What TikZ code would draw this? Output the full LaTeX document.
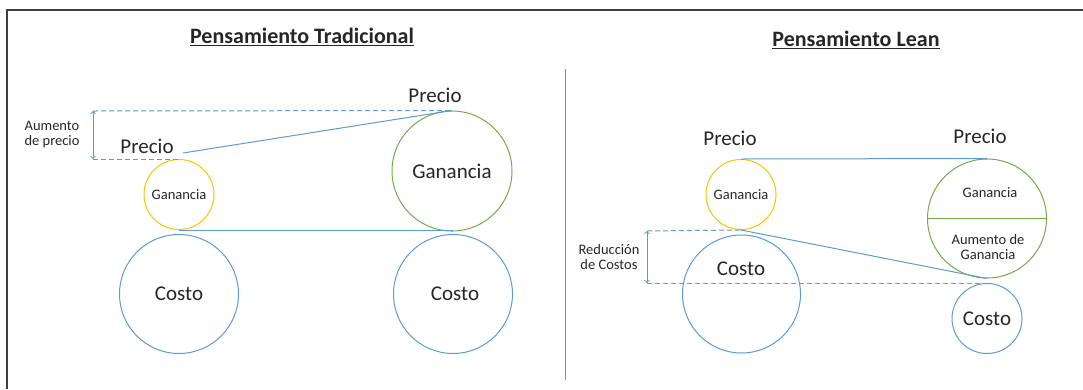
\documentclass[tikz,border=0pt]{standalone}
\usepackage{fontspec}
\setmainfont{Carlito}
\usepackage{xcolor}
\usetikzlibrary{positioning,arrows}
\definecolor{azul}{HTML}{5B9BD5}
\definecolor{amar}{HTML}{FFC000}
\definecolor{verde}{HTML}{70AD47}
\definecolor{texto}{HTML}{262626}
\definecolor{marco}{HTML}{404040}

\begin{document}
\begin{tikzpicture}[x=1pt,y=-1pt,>=to,font=\fontsize{21}{24}\selectfont,text=texto,
		circ/.style={circle,inner sep=0pt,line width=1pt},
		small/.style={font=\fontsize{14.5}{16}\selectfont},
		titulo/.style={font=\fontsize{22}{24}\selectfont\bfseries},
		linea/.style={draw=azul,line width=1pt},
		guia/.style={draw=azul,line width=1pt,dashed,dash pattern=on 5pt off 3pt}]
			\useasboundingbox (0,0) rectangle (1083,389);
			\draw[marco,line width=1.4pt] (7,389) -- (7,10) -- (1083,10);
	
			% Pensamiento Tradicional
			\node[titulo] (t1) at (302,37) {\underline{Pensamiento Tradicional}};
			\node[circ,draw=amar,minimum size=70pt,small] (g1) at (179,194.5) {Ganancia};
			\node[circ,draw=azul,minimum size=119pt] (c1) at (179,294) {Costo};
			\node[circ,draw=verde,minimum size=120pt] (g2) at (452,171) {Ganancia};
			\node[circ,draw=azul,minimum size=119pt] (c2) at (453,294) {\hspace*{4pt}Costo};
			\node (p1) at (147,146) {Precio};
			\node (p2) at (435,95) {Precio};
			\node[small,align=center,inner sep=0pt] (a0) at (52,135) {Aumento\\[-1pt]de precio};
			\coordinate (a1) at (93,111);
			\coordinate (a2) at (93,159);
			\coordinate (s1) at (183,153);
	
			\draw[guia] (a1) -- (g2.north);
			\draw[guia] (a2) -- (g1.north);
			\draw[linea,<->] (a1) -- (a2);
			\draw[linea] (s1) -- (g2.north);
			\draw[linea] (g1.south) -- (g1.south -| g2.south) -- (g2.south);
	
			% separacion
			\coordinate (d1) at (565,69);
			\coordinate (d2) at (565,380);
			\draw[azul,line width=1pt] (d1) -- (d2);
	
			% Pensamiento Lean
			\node[titulo] (t2) at (856,40) {\underline{Pensamiento Lean}};
			\node[circ,draw=amar,minimum size=70pt,small] (g3) at (741,194.5) {Ganancia};
			\node[circ,draw=azul,minimum size=118pt] (c3) at (741.5,294) {};
			\node (c3t) at (741,269) {Costo};
			\node[circ,draw=verde,minimum size=119pt] (g4) at (987,218.5) {};
			\node[small] (g4a) at (990,193) {Ganancia};
			\node[small,align=center,inner sep=0pt] (g4b) at (988,247) {Aumento de\\[-1pt]Ganancia};
			\node[circ,draw=azul,minimum size=70pt] (c4) at (987,318.5) {Costo};
			\node (p3) at (730,138) {Precio};
			\node (p4) at (980,136) {Precio};
			\node[small,align=center,inner sep=0pt] (r0) at (609,257) {Reducción\\[-1pt]de Costos};
			\coordinate (r1) at (647,231);
			\coordinate (r2) at (647,283);
	
			\draw[verde,line width=1pt] (g4.west) -- (g4.east);
			\draw[linea] (g3.north) -- (g4.north);
			\draw[guia] (r1) -- (g3.south);
			\draw[guia] (r2) -- (c4.north);
			\draw[linea,<->] (r1) -- (r2);
			\draw[linea] (g3.south) -- (g4.south);
			\end{tikzpicture}
\end{document}
